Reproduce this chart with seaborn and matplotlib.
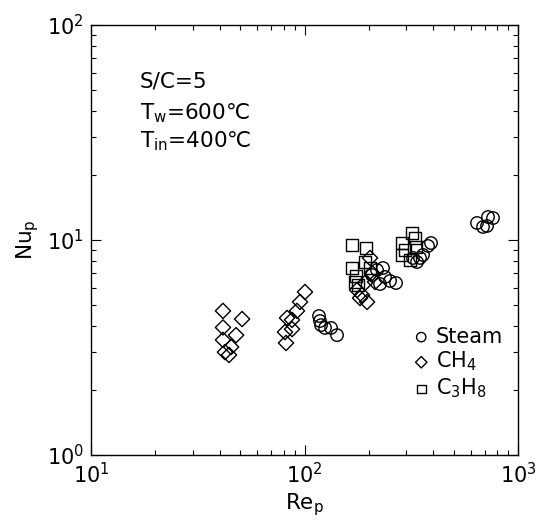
import matplotlib
matplotlib.use("Agg")
import matplotlib.pyplot as plt
import seaborn as sns
import pandas as pd
from matplotlib.ticker import LogLocator, NullFormatter

sns.set_theme(style="ticks")
plt.rcParams["font.family"] = ["DejaVu Sans"]
plt.rcParams["mathtext.fontset"] = "dejavusans"
plt.rcParams["text.color"] = "black"

# Particle Reynolds number vs particle Nusselt number
steam_re = [116.9, 118.2, 119.5, 124.7, 133.1, 142.0,
            207.1, 218.6, 233.2, 238.2, 251.5, 268.3, 225.8,
            336.5, 347.5, 358.9, 391.2, 378.8, 322.3,
            642.7, 685.6, 715.8, 723.6, 763.7]
steam_nu = [4.43, 4.20, 4.02, 3.90, 3.90, 3.61,
            6.87, 7.25, 7.41, 6.73, 6.45, 6.31, 6.24,
            7.90, 8.25, 8.52, 9.68, 9.38, 8.25,
            12.0, 11.5, 11.62, 12.79, 12.65]

ch4_re = [41.5, 51.0, 41.5, 47.8, 41.5, 45.3, 42.4, 44.3,
          100.5, 95.3, 92.2, 87.4, 82.8, 87.4, 81.0, 81.9,
          202.7, 207.1, 213.9, 192.0, 176.2, 182.0, 196.3, 185.9]
ch4_nu = [4.68, 4.29, 3.92, 3.61, 3.43, 3.18, 3.01, 2.92,
          5.73, 5.15, 4.68, 4.25, 4.34, 3.85, 3.73, 3.32,
          8.25, 7.02, 6.38, 6.31, 5.85, 5.37, 5.15, 5.55]

c3h8_re = [166.9, 194.2, 166.9, 174.3, 178.1, 192.0, 202.7, 172.4,
           318.8, 286.2, 329.3, 286.2, 312.0, 295.6, 332.9]
c3h8_nu = [9.48, 9.18, 7.41, 6.80, 6.18, 7.90, 7.41, 6.38,
           10.78, 9.68, 10.22, 8.52, 8.07, 8.98, 9.28]

fig = plt.figure(figsize=(5.56, 5.27), dpi=100)
ax = fig.add_axes([0.1637, 0.1366, 0.768, 0.816])

series = [
    ("Steam", steam_re, steam_nu, "o", 80),
    ("CH$_4$", ch4_re, ch4_nu, "D", 60),
    ("C$_3$H$_8$", c3h8_re, c3h8_nu, "s", 70),
]
for label, re_vals, nu_vals, mk, size in series:
    df = pd.DataFrame({"Re": re_vals, "Nu": nu_vals})
    sns.scatterplot(data=df, x="Re", y="Nu", ax=ax, marker=mk, s=size,
                    facecolors="none", edgecolor="black", linewidth=1.0,
                    label=label, zorder=3)

ax.set_xscale("log")
ax.set_yscale("log")
ax.set_xlim(10, 1000)
ax.set_ylim(1, 100)

for sp in ax.spines.values():
    sp.set_color("black")
    sp.set_linewidth(1.0)

ax.xaxis.set_major_locator(LogLocator(base=10, numticks=10))
ax.yaxis.set_major_locator(LogLocator(base=10, numticks=10))
ax.xaxis.set_minor_locator(LogLocator(base=10, subs=range(2, 10), numticks=20))
ax.yaxis.set_minor_locator(LogLocator(base=10, subs=range(2, 10), numticks=20))
ax.xaxis.set_minor_formatter(NullFormatter())
ax.yaxis.set_minor_formatter(NullFormatter())
ax.tick_params(which="both", direction="in", top=True, right=True,
               colors="black", labelsize=15, width=0.8)
ax.tick_params(which="major", length=7, pad=5)
ax.tick_params(which="minor", length=3.5)

ax.set_xlabel("Re$_\\mathregular{p}$", fontsize=15.5, color="black", labelpad=3)
ax.set_ylabel("Nu$_\\mathregular{p}$", fontsize=15.5, color="black", labelpad=4)

ax.text(0.115, 0.855, "S/C=5", transform=ax.transAxes, fontsize=15.5, color="black")
ax.text(0.115, 0.78, "T$_\\mathregular{w}$=600\u2103", transform=ax.transAxes,
        fontsize=15.5, color="black")
ax.text(0.115, 0.715, "T$_\\mathregular{in}$=400\u2103", transform=ax.transAxes,
        fontsize=15.5, color="black")

leg = ax.legend(loc="upper left", bbox_to_anchor=(0.727, 0.318), frameon=False,
                markerscale=0.75, handletextpad=0.15, labelspacing=0.15,
                fontsize=15, handlelength=1.1, borderaxespad=0)
for t in leg.get_texts():
    t.set_color("black")

fig.savefig("out.png", dpi=100)
